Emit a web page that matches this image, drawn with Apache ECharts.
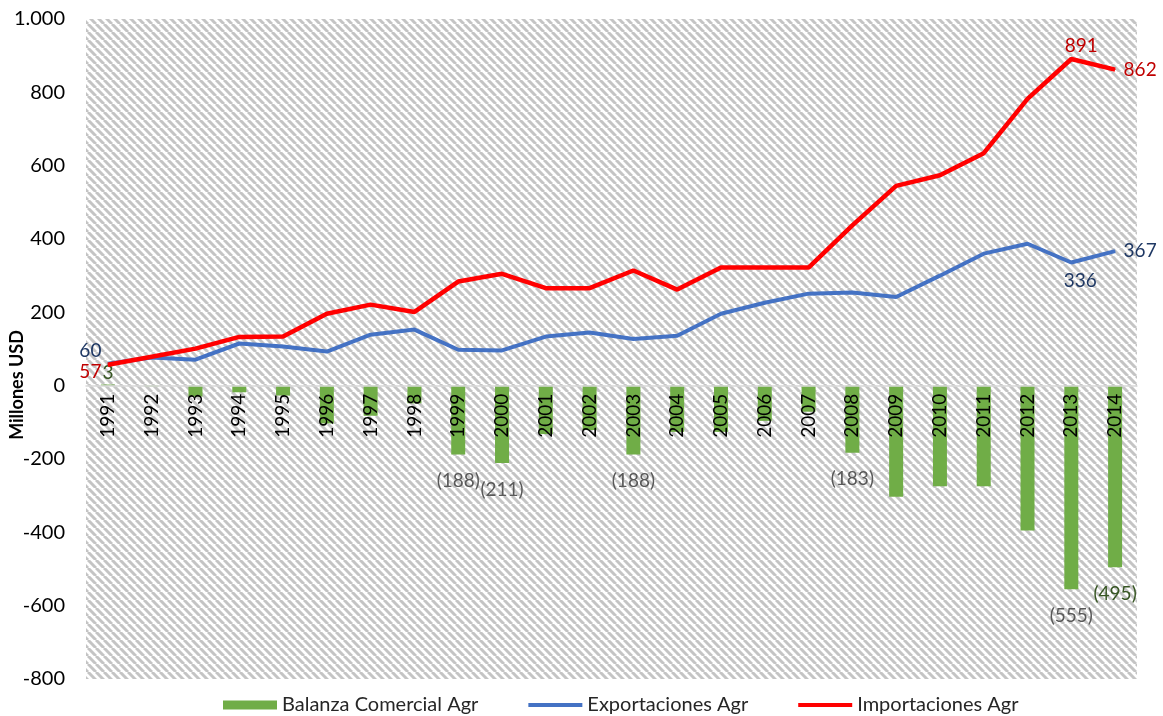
<!DOCTYPE html>
<html>
<head>
<meta charset="utf-8">
<script src="https://cdn.jsdelivr.net/npm/echarts@6/dist/echarts.min.js"></script>
<style>
html,body{margin:0;padding:0;background:#fff;}
#chart{width:1163px;height:716px;}
</style>
</head>
<body>
<div id="chart"></div>
<script>
// ---- data ----
const years = ['1991','1992','1993','1994','1995','1996','1997','1998','1999','2000','2001','2002','2003','2004','2005','2006','2007','2008','2009','2010','2011','2012','2013','2014'];
const exportaciones = [60, 77, 71, 115, 107, 93, 139, 153, 98, 96, 134, 145, 127, 136, 196, 226, 251, 254, 242, 300, 360, 387, 336, 367];
const importaciones = [57, 79, 101, 133, 134, 196, 221, 201, 284, 305, 266, 266, 314, 262, 322, 322, 322, 437, 545, 574, 634, 782, 891, 862];
const balanza = [3, -2, -30, -18, -27, -103, -82, -48, -188, -211, -132, -121, -188, -126, -126, -96, -71, -183, -303, -274, -274, -395, -555, -495];
const yTicks = {min: -800, max: 1000, interval: 200};

// which points carry a data label
const balanzaLabelIdx = [0, 8, 9, 12, 17, 22, 23];
const expLabelIdx = [0, 22, 23];
const impLabelIdx = [0, 22, 23];

// ---- layout ----
const W = 1163, H = 716;
const GRID = {left: 86, right: 26, top: 19, bottom: 37};
const plotH = H - GRID.top - GRID.bottom;
// distance of the zero line above the bottom edge of the grid
const zeroFromBottom = plotH * (0 - yTicks.min) / (yTicks.max - yTicks.min);

// ---- styles ----
const FONT = 'Lato';
const fmtNeg = v => v < 0 ? '(' + (-v) + ')' : String(v);
const fmtThousands = v => {
  const s = String(Math.abs(v)).replace(/\B(?=(\d{3})+(?!\d))/g, '.');
  return (v < 0 ? '-' : '') + s;
};

// diagonal stripe pattern
const tile = document.createElement('canvas');
tile.width = 8; tile.height = 8;
const tctx = tile.getContext('2d');
tctx.fillStyle = '#ffffff';
tctx.fillRect(0, 0, 8, 8);
tctx.strokeStyle = '#c4c4c4';
tctx.lineWidth = 3;
for (const o of [-8, 0, 8]) {
  tctx.beginPath();
  tctx.moveTo(o, 0);
  tctx.lineTo(o + 8, 8);
  tctx.stroke();
}

const LBL = 19;
const balData = balanza.map((v, i) => {
  if (!balanzaLabelIdx.includes(i)) return v;
  const green = (i === 0 || i === 23);
  return {
    value: v,
    label: {
      show: true,
      position: v >= 0 ? 'top' : 'bottom',
      distance: v >= 0 ? 2 : 17,
      color: green ? '#375623' : '#595959',
      fontSize: LBL,
      fontFamily: FONT,
      formatter: p => fmtNeg(p.value)
    }
  };
});

const expLabelCfg = {
  0: {position: 'left', distance: 6, offset: [0, -13]},
  22: {position: 'bottom', distance: 8, offset: [9, 0]},
  23: {position: 'right', distance: 8, offset: [0, 0]}
};
const impLabelCfg = {
  0: {position: 'left', distance: 6, offset: [0, 7]},
  22: {position: 'top', distance: 3, offset: [10, 0]},
  23: {position: 'right', distance: 8, offset: [0, 0]}
};

const expData = exportaciones.map((v, i) => expLabelIdx.includes(i) ? {
  value: v,
  label: Object.assign({show: true, color: '#1f3864', fontSize: LBL, fontFamily: FONT}, expLabelCfg[i])
} : v);
const impData = importaciones.map((v, i) => impLabelIdx.includes(i) ? {
  value: v,
  label: Object.assign({show: true, color: '#c00000', fontSize: LBL, fontFamily: FONT}, impLabelCfg[i])
} : v);

const lineIcon = 'path://M0,0 L52,0 L52,4 L0,4 Z';

const chart = echarts.init(document.getElementById('chart'), null, {renderer: 'canvas'});
chart.setOption({
  animation: false,
  backgroundColor: '#ffffff',
  textStyle: {fontFamily: FONT},
  grid: {
    left: GRID.left, right: GRID.right, top: GRID.top, bottom: GRID.bottom,
    outerBoundsMode: 'none',
    containLabel: false,
    show: true,
    borderWidth: 0,
    backgroundColor: {image: tile, repeat: 'repeat'}
  },
  legend: {
    top: 690,
    left: 218,
    itemWidth: 54,
    itemHeight: 9,
    itemGap: 50,
    textStyle: {fontSize: 20, color: '#262626', fontFamily: FONT},
    data: [
      {name: 'Balanza Comercial Agr', icon: 'rect'},
      {name: 'Exportaciones Agr', icon: lineIcon},
      {name: 'Importaciones Agr', icon: lineIcon}
    ]
  },
  xAxis: {
    type: 'category',
    data: years,
    z: 10,
    boundaryGap: true,
    offset: -zeroFromBottom,
    axisLine: {show: true, onZero: false, lineStyle: {color: '#d9d9d9', width: 1.5}},
    axisTick: {show: false},
    splitLine: {show: false},
    axisLabel: {rotate: 90, margin: 8, fontSize: 19, color: '#000000', fontFamily: FONT, interval: 0}
  },
  yAxis: {
    type: 'value',
    min: yTicks.min, max: yTicks.max, interval: yTicks.interval,
    axisLine: {show: false},
    axisTick: {show: false},
    splitLine: {show: false},
    axisLabel: {fontSize: 20, color: '#000000', fontFamily: FONT, margin: 21, formatter: fmtThousands}
  },
  graphic: [{
    type: 'text',
    x: 17, y: 385,
    rotation: Math.PI / 2,
    style: {
      text: 'Millones USD',
      font: 'bold 18px ' + FONT,
      fill: '#000000',
      align: 'center',
      verticalAlign: 'middle'
    }
  }],
  series: [
    {
      name: 'Balanza Comercial Agr',
      type: 'bar',
      data: balData,
      barWidth: 14,
      itemStyle: {color: '#70ad47'},
      z: 2
    },
    {
      name: 'Exportaciones Agr',
      type: 'line',
      data: expData,
      symbol: 'circle',
      symbolSize: 1,
      showSymbol: true,
      lineStyle: {color: '#4472c4', width: 4},
      itemStyle: {color: '#4472c4'},
      z: 3
    },
    {
      name: 'Importaciones Agr',
      type: 'line',
      data: impData,
      symbol: 'circle',
      symbolSize: 1,
      showSymbol: true,
      lineStyle: {color: '#ff0000', width: 4.5},
      itemStyle: {color: '#ff0000'},
      z: 4
    }
  ]
});
</script>
</body>
</html>
